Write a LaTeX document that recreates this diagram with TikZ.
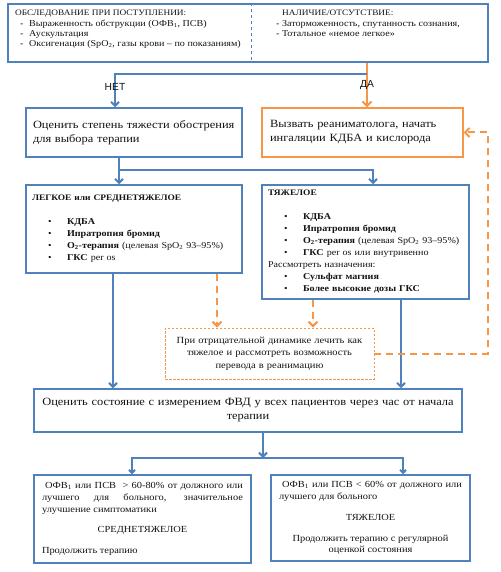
\documentclass[tikz,border=0pt]{standalone}
\usepackage{fontspec}
\setmainfont{Liberation Serif}[FakeStretch=1.12]
\newfontfamily\arialfont{Liberation Sans}
\usetikzlibrary{arrows.meta,calc}
\definecolor{bl}{HTML}{4F81BD}
\definecolor{orng}{HTML}{F79646}
\definecolor{txt}{HTML}{141414}
\newcommand\itm{\hspace*{16pt}\makebox[19pt][l]{•}}
\newcommand\dsh{\hspace*{5pt}\makebox[9pt][l]{-}}
\begin{document}
\begin{tikzpicture}[x=1pt,y=-1pt,
  bbox/.style={draw=bl, line width=1.5pt, inner ysep=0pt, text=txt},
  obox/.style={draw=orng, line width=1.3pt, inner ysep=0pt, text=txt},
  nbox/.style={draw=orng, line width=0.9pt, dash pattern=on 2.5pt off 1.5pt, inner ysep=0pt, text=txt},
  txtnode/.style={inner sep=0pt, text=txt, align=left},
  bline/.style={draw=bl, line width=2pt},
  barr/.style={bline, -{Straight Barb[length=4pt,width=8pt]}},
  oarr/.style={draw=orng, line width=2pt, -{Straight Barb[length=4.5pt,width=9pt]}},
  odash/.style={oarr, dash pattern=on 7pt off 5pt},
  lbl/.style={inner sep=0pt, text=txt, font=\arialfont\fontsize{10.3}{12}\selectfont},
  big/.style={font=\fontsize{11.1}{14}\selectfont},
  mid/.style={font=\fontsize{9}{12}\selectfont},
  nte/.style={font=\fontsize{9.4}{12.5}\selectfont},
  bot/.style={font=\fontsize{9.3}{11.8}\selectfont},
  sml/.style={font=\fontsize{9}{10.4}\selectfont}
]
\useasboundingbox[fill=white] (0,0) rectangle (500,572);

% top box
\node[bbox, minimum width=480pt, minimum height=58pt] (top) at (248,33) {};
\draw[bl, line width=1.2pt, dashed] ($(top.north west)+(244,0)$) -- ($(top.south west)+(244,0)$);
\node[txtnode, sml, anchor=north west] (exam) at (15,10) {{\fontsize{8.3}{10.4}\selectfont ОБСЛЕДОВАНИЕ ПРИ ПОСТУПЛЕНИИ:}\\
\dsh Выраженность обструкции (ОФВ\textsubscript{1}, ПСВ)\\
\dsh Аускультация\\
\dsh Оксигенация (SpO\textsubscript{2}, газы крови – по показаниям)};
\node[txtnode, sml, anchor=north west] (pres) at (276,10) {\hspace*{6pt}{\fontsize{8.3}{10.4}\selectfont НАЛИЧИЕ/ОТСУТСТВИЕ:}\\
- Заторможенность, спутанность сознания,\\
- Тотальное «немое легкое»};

% second row
\node[bbox, big, minimum width=216pt, minimum height=49pt, inner xsep=7pt, text width=202pt, align=left] (assess) at (134,132.5)
  {Оценить степень тяжести обострения\\ для выбора терапии};
\node[obox, big, minimum width=201pt, minimum height=49pt, inner xsep=8pt, text width=185pt, align=left] (call) at (362.5,132.5)
  {Вызвать реаниматолога, начать\\ ингаляции КДБА и кислорода};

% third row
\node[bbox, mid, minimum width=216pt, minimum height=88pt, inner xsep=6pt, text width=204pt, align=left] (mild) at (134,229)
  {{\fontsize{8.4}{12}\selectfont\textbf{ЛЕГКОЕ или СРЕДНЕТЯЖЕЛОЕ}}\\[12pt]
   \itm\textbf{КДБА}\\
   \itm\textbf{Ипратропия бромид}\\
   \mbox{\itm\textbf{О\textsubscript{2}-терапия} (целевая SpO\textsubscript{2} 93–95\%)}\\
   \itm\textbf{ГКС} per os};
\node[bbox, mid, minimum width=207pt, minimum height=114pt, inner xsep=6pt, text width=195pt, align=left] (severe) at (365.5,242)
  {{\fontsize{8.4}{12}\selectfont\textbf{ТЯЖЕЛОЕ}}\\[12pt]
   \itm\textbf{КДБА}\\
   \itm\textbf{Ипратропия бромид}\\
   \mbox{\itm\textbf{О\textsubscript{2}-терапия} (целевая SpO\textsubscript{2} 93–95\%)}\\
   \mbox{\itm\textbf{ГКС} per os или внутривенно}\\
   Рассмотреть назначения:\\
   \itm\textbf{Сульфат магния}\\
   \itm\textbf{Более высокие дозы ГКС}};

% note
\node[nbox, nte, minimum width=209pt, minimum height=51pt, inner xsep=6pt, text width=197pt, align=center] (note) at (269.5,353.5)
  {При отрицательной динамике лечить как\\ тяжелое и рассмотреть возможность\\ перевода в реанимацию};

% evaluation
\node[bbox, big, minimum width=428pt, minimum height=43pt, inner xsep=6pt, text width=416pt, align=center] (eval) at (248,410.5)
  {Оценить состояние с измерением ФВД у всех пациентов через час от начала\\ терапии};

% bottom
\node[bbox, bot, minimum width=217pt, minimum height=88pt, inner xsep=8pt, text width=201pt, align=justify] (modr) at (142.5,519)
  {\hspace*{3pt}ОФВ\textsubscript{1} или ПСВ \ > 60-80\% от должного или\linebreak лучшего для больного, значительное\linebreak улучшение симптоматики\par
   \vspace{9pt}{\centering СРЕДНЕТЯЖЕЛОЕ\par}\vspace{9pt}
   Продолжить терапию};
\node[bbox, bot, minimum width=199pt, minimum height=86pt, inner xsep=8pt, text width=183pt, align=justify] (sevr) at (370.5,518)
  {\hspace*{3pt}ОФВ\textsubscript{1} или ПСВ < 60\% от должного или\linebreak лучшего для больного\par
   \vspace{9pt}{\centering ТЯЖЕЛОЕ\par}\vspace{9pt}
   {\centering Продолжить терапию с регулярной\\ оценкой состояния\par}};

% connectors top
\coordinate (split) at (367,74);
\coordinate (nx) at (115,74);
\draw[oarr] (top.south -| split) -- (call.north -| split);
\draw[barr] (split) -- (nx) -- (nx |- assess.north);
\node[lbl] (no) at (115,87) {НЕТ};
\node[lbl] (yes) at (367,85) {ДА};

% assess to severity
\coordinate (b1) at (119,170);
\coordinate (b2) at (373,170);
\draw[bline] (assess.south -| b1) -- (b1);
\draw[barr] (b1) -- (mild.north -| b1);
\draw[barr] (b1) -- (b2) -- (severe.north -| b2);

% to evaluation
\coordinate (x1) at (113,300);
\coordinate (x2) at (401,300);
\draw[barr] (mild.south -| x1) -- (eval.north -| x1);
\draw[barr] (severe.south -| x2) -- (eval.north -| x2);

% orange dashed
\coordinate (o1) at (217,300);
\coordinate (o2) at (313,300);
\coordinate (rt) at (488,240);
\draw[odash] (mild.south -| o1) -- (note.north -| o1);
\draw[odash] (severe.south -| o2) -- (note.north -| o2);
\draw[odash] (note.east) -| (rt |- call.east) -- (call.east);

% bottom connectors
\coordinate (m) at (263,458);
\coordinate (ml) at (132,458);
\coordinate (mr) at (403,458);
\draw[barr] (eval.south -| m) -- (m);
\draw[bline, {Straight Barb[length=3pt,width=6pt]}-{Straight Barb[length=3pt,width=6pt]}] (modr.north -| ml) -- (ml) -- (mr) -- (sevr.north -| mr);
\end{tikzpicture}
\end{document}
